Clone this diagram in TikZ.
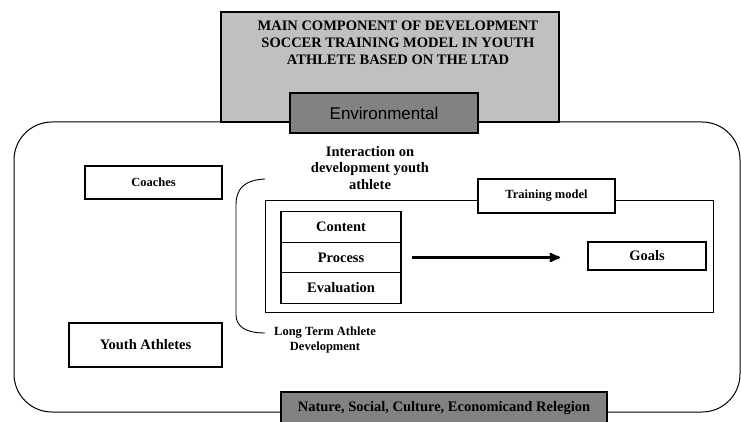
\documentclass[tikz,border=0pt]{standalone}
\usepackage{fontspec}
\setmainfont{Liberation Serif}
\newfontfamily\envfont{Liberation Sans}
\usetikzlibrary{arrows,positioning}
\definecolor{titlegray}{RGB}{192,192,192}
\definecolor{envgray}{RGB}{130,130,130}

\tikzset{
  box/.style={draw,line width=1.2pt,fill=white,inner sep=0pt,outer sep=0pt,align=center,font=\bfseries\fontsize{14.5}{17}\selectfont},
  smallbox/.style={box,font=\bfseries\fontsize{12.5}{15}\selectfont},
  stackbox/.style={box,minimum width=120pt,minimum height=30.5pt},
  darkbox/.style={box,fill=envgray,line width=1.5pt},
  plaintext/.style={align=center,inner sep=0pt,font=\bfseries\fontsize{14.5}{16.5}\selectfont}
}

\begin{document}
\begin{tikzpicture}[x=1pt,y=-1pt,>=stealth',node distance=0pt]
\useasboundingbox (0,0) rectangle (741,422);

% environment frame
\draw[line width=1pt,rounded corners=38pt] (14,122) rectangle (740,412);

\node[box,fill=titlegray,minimum width=338pt,minimum height=110pt]	(title)	at (390,67)	{};
\node[plaintext,font=\bfseries\fontsize{14.5}{17}\selectfont]	(titletext)	at (398,43)	{MAIN COMPONENT OF DEVELOPMENT\\SOCCER TRAINING MODEL IN YOUTH\\ATHLETE BASED ON THE LTAD};
\node[darkbox,minimum width=188pt,minimum height=40pt,line width=2pt]	(env)	at (384,113)	{\envfont\mdseries\fontsize{17}{20}\selectfont Environmental};

\node[smallbox,minimum width=137pt,minimum height=33pt]	(coaches)	at (153.5,182.5)	{Coaches};
\node[box,minimum width=153pt,minimum height=44pt]	(youth)	at (145.5,345)	{Youth Athletes};

\node[plaintext]	(interact)	at (370,168)	{Interaction on\\development youth\\athlete};
\node[plaintext,font=\bfseries\fontsize{12.5}{15}\selectfont]	(ltad)	at (325,340)	{Long Term Athlete\\Development};

% LTAD bracket
\draw[line width=0.9pt] (265,179) .. controls (245,180) and (236,188) .. (236,205) -- (236,315) .. controls (236,326) and (245,333) .. (265,333);

\node[draw,line width=0.9pt,minimum width=448pt,minimum height=112pt,inner sep=0pt]	(training)	at (489,256)	{};
\node[smallbox,minimum width=137pt,minimum height=34pt]	(trainlabel)	at (546.5,196)	{Training model};

\node[stackbox]	(content)	at (341,227)	{Content};
\node[stackbox]	(process)	[below=of content]	{Process};
\node[stackbox]	(evaluation)	[below=of process]	{Evaluation};

\node[box,minimum width=118pt,minimum height=28pt]	(goals)	at (647,256)	{Goals};

\draw[->,line width=2.5pt,shorten <=11pt,shorten >=28pt] (process.east) -- (process.east -| goals.west);

\node[darkbox,minimum width=326pt,minimum height=32pt]	(nature)	at (444,408)	{Nature, Social, Culture, Economicand Relegion};
\end{tikzpicture}
\end{document}
